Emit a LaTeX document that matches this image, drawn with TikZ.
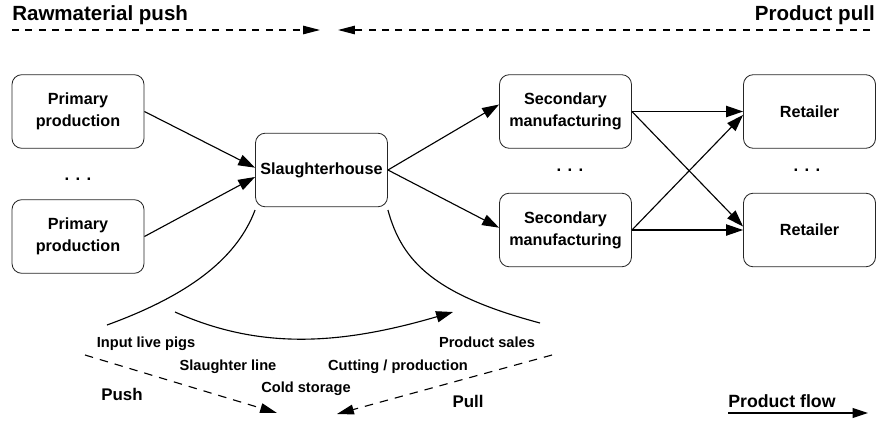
\documentclass[tikz,border=0pt]{standalone}
\usepackage{fontspec}
\setmainfont{Liberation Sans}
\usetikzlibrary{positioning,arrows.meta}

\begin{document}
\begin{tikzpicture}[x=0.025cm,y=-0.025cm,
  box/.style={draw=black!85,line width=0.6pt,rounded corners=7pt,minimum width=3.3cm,minimum height=1.84cm,align=center,inner sep=0pt,font=\bfseries\fontsize{11.5}{15.5}\selectfont},
  flow/.style={line width=0.8pt,-{Triangle[length=12pt,width=8pt]}},
  lbl/.style={anchor=base,inner sep=0pt,font=\bfseries\fontsize{10.4}{12}\selectfont},
  big/.style={inner sep=0pt,font=\bfseries\fontsize{12}{14}\selectfont},
  dotsn/.style={anchor=base,inner sep=0pt,font=\bfseries\fontsize{12}{12}\selectfont}]
\useasboundingbox (0,0) rectangle (879,422);

\node[inner sep=0pt,anchor=base west,font=\bfseries\fontsize{14.6}{16}\selectfont] (hraw) at (12,20) {Rawmaterial push};
\node[inner sep=0pt,anchor=base east,font=\bfseries\fontsize{14.6}{16}\selectfont] (hpull) at (875,20) {Product pull};
\coordinate (rawA) at (12,30);
\coordinate (rawB) at (320,30);
\coordinate (pullA) at (870,30);
\coordinate (pullB) at (338,30);
\draw[line width=0.8pt,dash pattern=on 5pt off 4.5pt,-{Triangle[length=12pt,width=6pt]}] (rawA) -- (rawB);
\draw[line width=0.8pt,dash pattern=on 5pt off 4.5pt,-{Triangle[length=12pt,width=6pt]}] (pullA) -- (pullB);

\node[box] (p1) at (78,111.5) {Primary\\production};
\node[box] (p2) at (78,236.5) {Primary\\production};
\node[dotsn] (d1) at (78,180) {. . .};
\node[box] (slh) at (321.5,170) {Slaughterhouse};
\node[box] (sec1) at (565.5,111.5) {Secondary\\manufacturing};
\node[box] (sec2) at (565.5,230) {Secondary\\manufacturing};
\node[dotsn] (d2) at (570,171) {. . .};
\node[box] (ret1) at (809.5,111.5) {Retailer};
\node[box] (ret2) at (809.5,230) {Retailer};
\node[dotsn] (d3) at (807,171) {. . .};

\draw[flow] (p1.east) -- (slh.178);
\draw[flow] (p2.east) -- (slh.186);
\draw[flow] (slh.east) -- (sec1.174);
\draw[flow] (slh.east) -- (sec2.178);
\draw[flow] (sec1.east) -- (ret1.west);
\draw[flow] (sec1.east) -- (ret2.177);
\draw[flow] (sec2.east) -- (ret2.west);
\draw[flow] (sec2.east) -- (ret1.183);

\coordinate (inL) at (107,325);
\coordinate (outR) at (540,323);
\draw[line width=0.8pt] ([yshift=-2pt]slh.south west) .. controls (238,255) and (195,293) .. (inL);
\draw[line width=0.8pt] ([yshift=-2pt]slh.south east) .. controls (402,262) and (435,295) .. (outR);
\coordinate (flowA) at (175,312);
\coordinate (flowB) at (453,312);
\draw[flow] (flowA) .. controls (260,350) and (340,345) .. (flowB);

\node[lbl] (lpigs) at (146,347) {Input live pigs};
\node[lbl] (lline) at (228,370) {Slaughter line};
\node[lbl] (lcold) at (306,392) {Cold storage};
\node[lbl] (lcut) at (398,370) {Cutting / production};
\node[lbl] (lsales) at (487,347) {Product sales};
\node[big,anchor=base] (lpush) at (122,400) {Push};
\node[big,anchor=base] (lpull) at (468,407) {Pull};

\coordinate (pushA) at (85,355);
\coordinate (pushB) at (277,413);
\coordinate (spullA) at (552,355);
\coordinate (spullB) at (337,414);
\draw[line width=0.8pt,dash pattern=on 6pt off 5pt,-{Triangle[length=12pt,width=7pt]}] (pushA) -- (pushB);
\draw[line width=0.8pt,dash pattern=on 6pt off 5pt,-{Triangle[length=12pt,width=7pt]}] (spullA) -- (spullB);

\node[big,anchor=base west,font=\bfseries\fontsize{12.6}{14}\selectfont] (lflow) at (728,407) {Product flow};
\coordinate (pfA) at (728,413);
\coordinate (pfB) at (868,413);
\draw[line width=0.8pt,-{Triangle[length=11pt,width=7pt]}] (pfA) -- (pfB);
\end{tikzpicture}
\end{document}
